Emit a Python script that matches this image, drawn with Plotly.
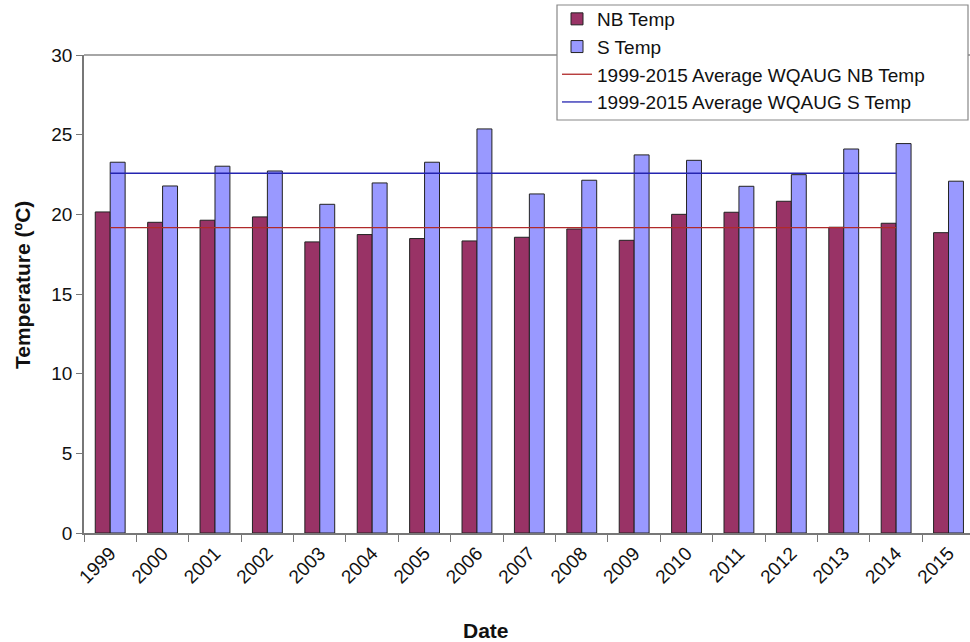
import plotly.graph_objects as go

years = ["1999", "2000", "2001", "2002", "2003", "2004", "2005", "2006", "2007",
         "2008", "2009", "2010", "2011", "2012", "2013", "2014", "2015"]
nb_temp = [20.15, 19.5, 19.63, 19.84, 18.27, 18.73, 18.48, 18.33, 18.56,
           19.08, 18.37, 20.0, 20.13, 20.82, 19.19, 19.44, 18.85]
s_temp = [23.27, 21.78, 23.02, 22.72, 20.63, 21.97, 23.27, 25.36, 21.28,
          22.14, 23.73, 23.39, 21.76, 22.49, 24.1, 24.44, 22.08]
avg_years = years[:16]
avg_nb = [19.17] * 16
avg_s = [22.58] * 16

FONT = "Liberation Sans, Arial, sans-serif"
W, H = 970, 642
L, R, T, B = 84, 0, 55, 109

fig = go.Figure()
fig.add_trace(go.Bar(x=years, y=nb_temp, name="NB Temp",
                     marker=dict(color="#993366", line=dict(color="#222222", width=1))))
fig.add_trace(go.Bar(x=years, y=s_temp, name="S Temp",
                     marker=dict(color="#9999FF", line=dict(color="#222222", width=1))))
fig.add_trace(go.Scatter(x=avg_years, y=avg_nb, mode="lines",
                         name="1999-2015 Average WQAUG NB Temp",
                         line=dict(color="#B02A2A", width=1.3)))
fig.add_trace(go.Scatter(x=avg_years, y=avg_s, mode="lines",
                         name="1999-2015 Average WQAUG S Temp",
                         line=dict(color="#2424B0", width=1.3)))

plot_w = W - L - R
plot_h = H - T - B


def px_x(px):
    return (px - L) / plot_w


def px_y(py):
    return ((H - B) - py) / plot_h


fig.update_layout(
    width=W, height=H,
    margin=dict(l=L, r=R, t=T, b=B, autoexpand=False),
    paper_bgcolor="white", plot_bgcolor="white",
    barmode="group", bargap=0.43, bargroupgap=0,
    font=dict(family=FONT, size=19, color="#111111"),
    showlegend=True,
    legend=dict(x=px_x(557), y=px_y(0),
                xanchor="left", yanchor="top",
                bgcolor="rgba(0,0,0,0)", borderwidth=0,
                font=dict(family=FONT, size=19, color="#111111"),
                itemwidth=30, tracegroupgap=0),
    xaxis=dict(type="category", range=[-0.5, 16.41],
               tickangle=-45, tickson="boundaries", ticks="outside",
               ticklen=7, tickcolor="#777777",
               tickfont=dict(family=FONT, size=19),
               showline=True, linecolor="#777777", linewidth=1.5,
               showgrid=False, mirror=False),
    yaxis=dict(range=[0, 30], dtick=5, ticks="outside", ticklen=6,
               tickcolor="#777777", showline=True, linecolor="#777777",
               tickfont=dict(family=FONT, size=19),
               linewidth=1.5, showgrid=False, zeroline=False),
    annotations=[
        dict(text="<b>Date</b>", xref="paper", yref="paper",
             x=px_x(486), y=px_y(630),
             xanchor="center", yanchor="middle", showarrow=False,
             font=dict(family=FONT, size=21, color="#111111")),
        dict(text="<b>Temperature (ºC)</b>", xref="paper", yref="paper",
             x=px_x(22), y=px_y(285),
             xanchor="center", yanchor="middle", showarrow=False, textangle=-90,
             font=dict(family=FONT, size=21, color="#111111")),
    ],
)
# top border of plot area
fig.add_shape(type="line", xref="paper", yref="paper", x0=0, x1=1, y0=1, y1=1,
              line=dict(color="#888888", width=1.5))
# legend frame
fig.add_shape(type="rect", xref="paper", yref="paper", layer="above",
              x0=px_x(557), x1=px_x(968), y0=px_y(120), y1=px_y(5),
              fillcolor="white", line=dict(color="#888888", width=1.2))

fig.write_html("out.html", config={"displayModeBar": False},
               post_script="document.body.style.margin='0';document.body.style.overflow='hidden';")
